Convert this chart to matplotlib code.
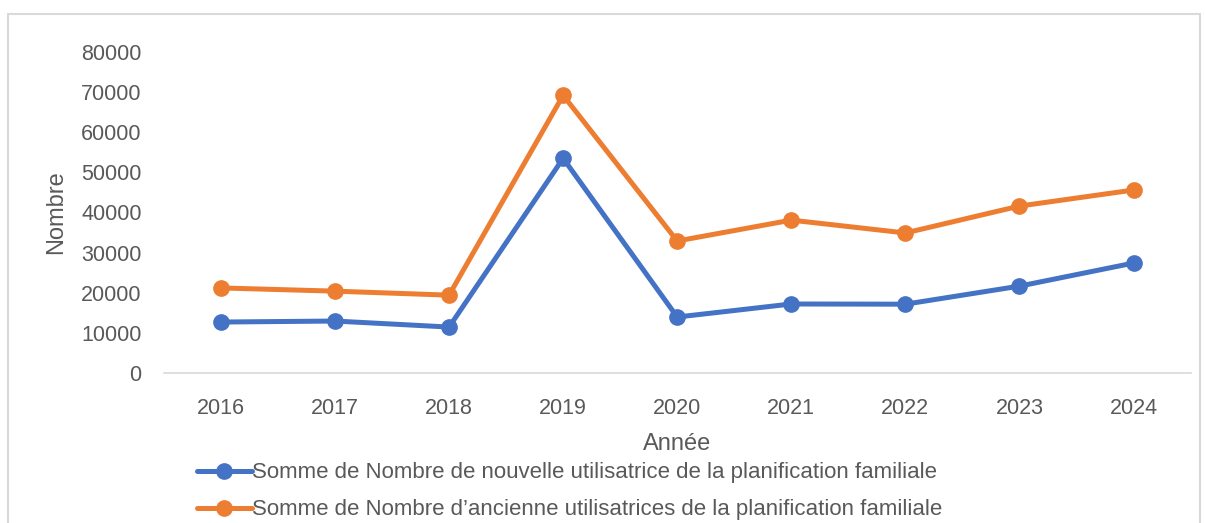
import matplotlib.pyplot as plt
from matplotlib.patches import Rectangle

# data
annees = ["2016", "2017", "2018", "2019", "2020", "2021", "2022", "2023", "2024"]
nouvelles = [12700, 12950, 11450, 53500, 13950, 17200, 17150, 21650, 27400]
anciennes = [21200, 20400, 19400, 69200, 32900, 38100, 34900, 41600, 45600]
label_nouv = "Somme de Nombre de nouvelle utilisatrice de la planification familiale"
label_anc = "Somme de Nombre d\u2019ancienne utilisatrices de la planification familiale"

plt.rcParams['font.family'] = ['Liberation Sans', 'DejaVu Sans']
txt = '#595959'

fig = plt.figure(figsize=(12.05, 5.23), dpi=100)
ax = fig.add_axes([0.136, 0.2868, 0.852, 0.6138])

x = range(len(annees))
ax.plot(x, nouvelles, color='#4472C4', lw=3.6, marker='o', ms=11,
        label=label_nouv, solid_capstyle='round')
ax.plot(x, anciennes, color='#ED7D31', lw=3.6, marker='o', ms=11,
        label=label_anc, solid_capstyle='round')

ax.set_xlim(-0.5, len(annees) - 0.5)
ax.set_ylim(0, 80000)
ax.set_yticks(range(0, 80001, 10000))
ax.set_xticks(list(x))
ax.set_xticklabels(annees)
ax.tick_params(axis='both', length=0, labelsize=15.5, colors=txt)
ax.tick_params(axis='y', pad=16)
ax.tick_params(axis='x', pad=18)
for s in ['top', 'right', 'left']:
    ax.spines[s].set_visible(False)
ax.spines['bottom'].set_color('#d9d9d9')
ax.spines['bottom'].set_linewidth(1.2)

ax.set_ylabel("Nombre", fontsize=17, color=txt, labelpad=10)
ax.set_xlabel("Ann\u00e9e", fontsize=17, color=txt, labelpad=10)

fig.legend(loc='upper left', bbox_to_anchor=(0.154, 0.137), frameon=False,
           fontsize=16, labelcolor=txt, handlelength=2.5, handletextpad=0.0,
           labelspacing=0.72, borderpad=0)

# light chart border
fig.patches.append(Rectangle((8 / 1205, -0.05), 1192 / 1205, 1.05 - 14 / 523,
                             transform=fig.transFigure, fill=False,
                             edgecolor='#d9d9d9', lw=1.5))

fig.savefig("out.png", dpi=100)
